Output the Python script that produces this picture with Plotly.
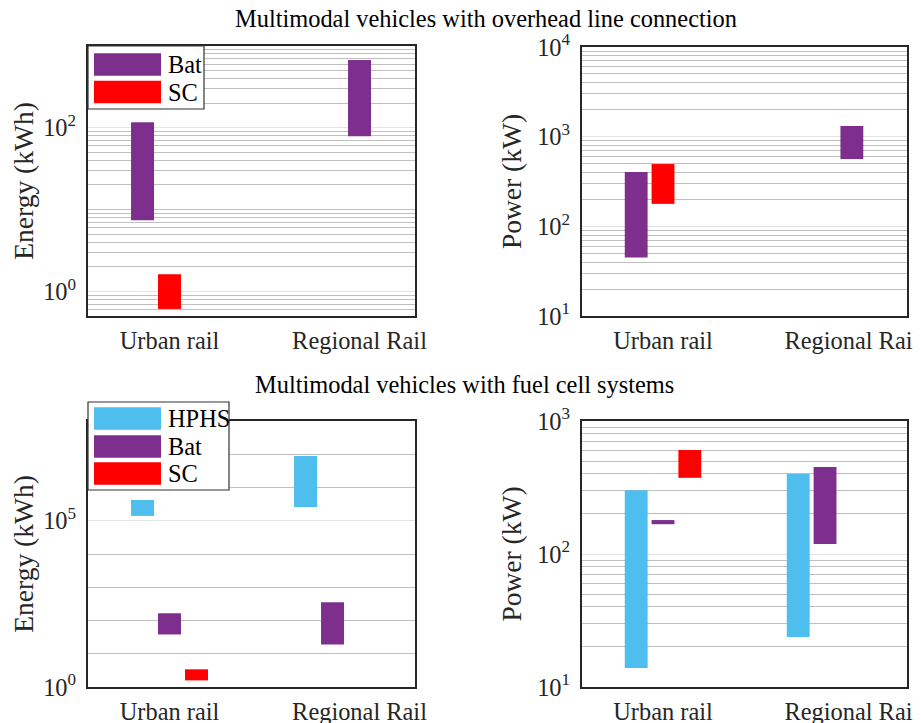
import plotly.graph_objects as go
import math

# page body has an 8px margin: the figure is shifted by (8, 8) in the window
OFF = 8
W, H = 921 - OFF, 723 - OFF

categories = ["Urban rail", "Regional Rail"]
cat_pos = [1, 2]
series_names = ["HPHS", "Bat", "SC"]
series_colors = ["#4DBEEE", "#7E2F8E", "#FF0000"]

# ---- Multimodal vehicles with overhead line connection ----
ohl_energy_bat_low = [7.4, 79]
ohl_energy_bat_high = [117, 674]
ohl_energy_sc_low = [0.61, None]
ohl_energy_sc_high = [1.62, None]

ohl_power_bat_low = [45, 563]
ohl_power_bat_high = [403, 1316]
ohl_power_sc_low = [178, None]
ohl_power_sc_high = [495, None]

# ---- Multimodal vehicles with fuel cell systems ----
fc_energy_hphs_low = [1.4e5, 2.6e5]
fc_energy_hphs_high = [4.2e5, 8.8e6]
fc_energy_bat_low = [38, 19]
fc_energy_bat_high = [165, 353]
fc_energy_sc_low = [1.58, None]
fc_energy_sc_high = [3.4, None]

fc_power_hphs_low = [13.9, 23.8]
fc_power_hphs_high = [302, 399]
fc_power_bat_low = [167.5, 119]
fc_power_bat_high = [180, 451]
fc_power_sc_low = [374, None]
fc_power_sc_high = [605, None]

titles = ["Multimodal vehicles with overhead line connection",
          "Multimodal vehicles with fuel cell systems"]

# ---- styling ----
FONT = "Liberation Serif"
TXT = "#262626"
SLOT = 0.142
BARW = 0.121
FS = 24.4

fig = go.Figure()


def px_x(p):
    return (p - OFF) / W


def px_y(p):
    return 1 - (p - OFF) / H


def add_range_bars(name, color, lows, highs, slots, xa, ya):
    xs, ys, bases, offs = [], [], [], []
    for pos, lo, hi, s in zip(cat_pos, lows, highs, slots):
        if lo is None or hi is None:
            continue
        xs.append(pos)
        bases.append(lo)
        ys.append(hi - lo)
        offs.append(s * SLOT - BARW / 2)
    fig.add_trace(go.Bar(x=xs, y=ys, base=bases, offset=offs, width=BARW,
                         name=name, marker=dict(color=color, line=dict(width=0)),
                         xaxis=xa, yaxis=ya, showlegend=False))


add_range_bars("Bat", series_colors[1], ohl_energy_bat_low, ohl_energy_bat_high, [-1, 0], "x", "y")
add_range_bars("SC", series_colors[2], ohl_energy_sc_low, ohl_energy_sc_high, [0, 0], "x", "y")
add_range_bars("Bat", series_colors[1], ohl_power_bat_low, ohl_power_bat_high, [-1, 0], "x2", "y2")
add_range_bars("SC", series_colors[2], ohl_power_sc_low, ohl_power_sc_high, [0, 0], "x2", "y2")
add_range_bars("HPHS", series_colors[0], fc_energy_hphs_low, fc_energy_hphs_high, [-1, -2], "x3", "y3")
add_range_bars("Bat", series_colors[1], fc_energy_bat_low, fc_energy_bat_high, [0, -1], "x3", "y3")
add_range_bars("SC", series_colors[2], fc_energy_sc_low, fc_energy_sc_high, [1, 1], "x3", "y3")
add_range_bars("HPHS", series_colors[0], fc_power_hphs_low, fc_power_hphs_high, [-1, -2], "x4", "y4")
add_range_bars("Bat", series_colors[1], fc_power_bat_low, fc_power_bat_high, [0, -1], "x4", "y4")
add_range_bars("SC", series_colors[2], fc_power_sc_low, fc_power_sc_high, [1, 1], "x4", "y4")


def minor_vals(d0, d1, every=True):
    vals = []
    for d in range(d0, d1 + 1):
        if every:
            for m in range(1, 10):
                vals.append(m * 10 ** d)
        else:
            vals.append(10 ** d)
    return vals


def xaxis_cfg(x0, x1, anchor):
    return dict(domain=[px_x(x0), px_x(x1)], anchor=anchor, range=[0.571, 2.292],
                automargin=False, ticklabeloverflow="allow",
                tickmode="array", tickvals=cat_pos, ticktext=categories,
                showgrid=False, zeroline=False, showline=True, mirror=True,
                linecolor=TXT, linewidth=2, ticks="outside", ticklen=2,
                tickcolor="rgba(0,0,0,0)", tickfont=dict(family=FONT, size=FS, color=TXT))


def yaxis_cfg(y0, y1, anchor, rng, majors, minors, title):
    return dict(domain=[px_y(y1), px_y(y0)], anchor=anchor, type="log", range=rng,
                automargin=False, ticklabeloverflow="allow",
                tickmode="array", tickvals=[10 ** m for m in majors],
                ticktext=["10<sup>%d</sup>" % m for m in majors],
                showgrid=True, gridcolor="#e4e4e4", gridwidth=1.3,
                minor=dict(tickmode="array", tickvals=[v for v in minors],
                           showgrid=True, gridcolor="#c0c0c0", gridwidth=1.3, ticks=""),
                zeroline=False, showline=True, mirror=True, linecolor=TXT, linewidth=2,
                ticks="outside", ticklen=5, tickcolor="rgba(0,0,0,0)",
                tickfont=dict(family=FONT, size=FS, color=TXT),
                title=dict(text=title, font=dict(family=FONT, size=27.5, color=TXT), standoff=8))


tl_minor = [v for v in minor_vals(-1, 3) if v not in (1, 100)]
tr_minor = [v for v in minor_vals(1, 4) if v not in (10, 100, 1000, 10000)]
bl_minor = [v for v in minor_vals(0, 8, every=False) if v not in (1, 1e5)]
br_minor = [v for v in minor_vals(1, 3) if v not in (10, 100, 1000)]

fig.update_layout(
    xaxis=xaxis_cfg(88, 415, "y"),
    xaxis2=xaxis_cfg(582, 907, "y2"),
    xaxis3=xaxis_cfg(88, 415, "y3"),
    xaxis4=xaxis_cfg(582, 907, "y4"),
    yaxis=yaxis_cfg(46, 316, "x", [math.log10(0.5), 3], [0, 2], tl_minor, "Energy (kWh)"),
    yaxis2=yaxis_cfg(47, 316, "x2", [1, 4], [1, 2, 3, 4], tr_minor, "Power (kW)"),
    yaxis3=yaxis_cfg(421, 687, "x3", [0, 8], [0, 5], bl_minor, "Energy (kWh)"),
    yaxis4=yaxis_cfg(421, 687, "x4", [1, 3], [1, 2, 3], br_minor, "Power (kW)"),
)

# subplot group titles
fig.add_annotation(text=titles[0], x=px_x(486), y=px_y(19), xref="paper", yref="paper",
                   showarrow=False, font=dict(family=FONT, size=FS, color="#000000"),
                   xanchor="center", yanchor="middle")
fig.add_annotation(text=titles[1], x=px_x(464), y=px_y(385), xref="paper", yref="paper",
                   showarrow=False, font=dict(family=FONT, size=FS, color="#000000"),
                   xanchor="center", yanchor="middle")


# legends (drawn as boxes with large swatches)
def add_legend(x0, y0, x1, y1, entries, centers):
    fig.add_shape(type="rect", xref="paper", yref="paper", x0=px_x(x0), x1=px_x(x1),
                  y0=px_y(y1), y1=px_y(y0), fillcolor="white",
                  line=dict(color="#333333", width=1.2), layer="above")
    for (nm, col), cy in zip(entries, centers):
        fig.add_shape(type="rect", xref="paper", yref="paper", x0=px_x(94), x1=px_x(161),
                      y0=px_y(cy + 11.3), y1=px_y(cy - 11.3), fillcolor=col,
                      line=dict(width=0), layer="above")
        fig.add_annotation(text=nm, x=px_x(166), y=px_y(cy), xref="paper", yref="paper",
                           showarrow=False, xanchor="left", yanchor="middle",
                           font=dict(family=FONT, size=FS, color="#000000"))


add_legend(88, 46, 204, 109, [("Bat", series_colors[1]), ("SC", series_colors[2])], [64.5, 92])
add_legend(88, 402, 229, 490, [("HPHS", series_colors[0]), ("Bat", series_colors[1]),
                               ("SC", series_colors[2])], [418.5, 446.5, 473.5])

fig.update_layout(width=W, height=H, margin=dict(l=0, r=0, t=0, b=0, autoexpand=False),
                  paper_bgcolor="white", plot_bgcolor="white", barmode="overlay",
                  showlegend=False, font=dict(family=FONT, color=TXT))

fig.write_html("out.html")
